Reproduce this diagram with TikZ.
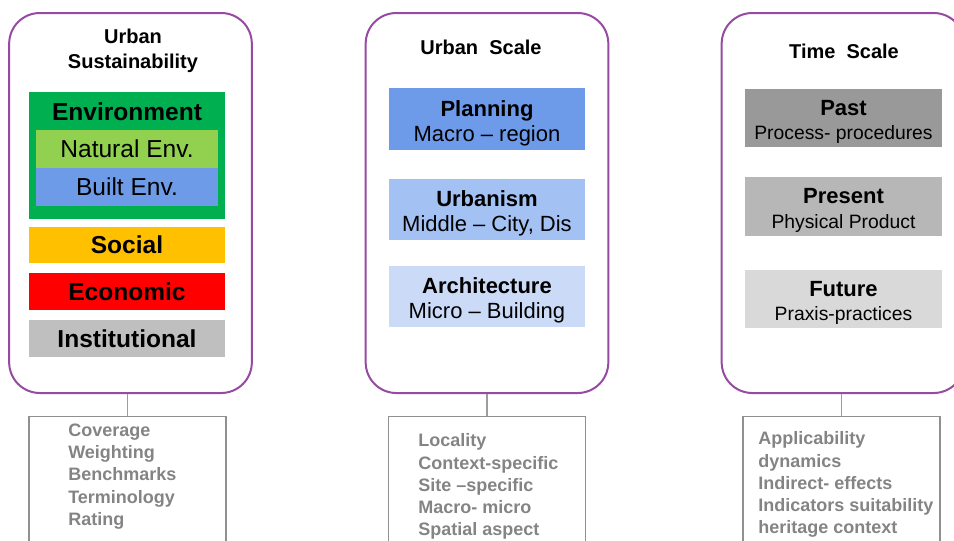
\documentclass[tikz,border=0pt]{standalone}
\usepackage{fontspec}
\setmainfont{Liberation Sans}
\usetikzlibrary{positioning,calc}
\definecolor{panelpurple}{RGB}{150,74,162}
\definecolor{envgreen}{RGB}{0,176,80}
\definecolor{natgreen}{RGB}{146,208,80}
\definecolor{builtblue}{RGB}{110,155,232}
\definecolor{socyellow}{RGB}{255,192,0}
\definecolor{ecored}{RGB}{255,0,0}
\definecolor{instgray}{RGB}{191,191,191}
\definecolor{planblue}{RGB}{109,155,233}
\definecolor{urbblue}{RGB}{163,193,243}
\definecolor{archblue}{RGB}{203,219,247}
\definecolor{pastgray}{RGB}{153,153,153}
\definecolor{presgray}{RGB}{183,183,183}
\definecolor{futgray}{RGB}{217,217,217}
\definecolor{critgray}{RGB}{132,132,132}

\begin{document}
\begin{tikzpicture}[
  x=0.75pt,y=-0.75pt,
  panel/.style={draw=panelpurple,line width=1.5pt,rounded corners=23pt,minimum width=182pt,minimum height=285pt},
  ptitle/.style={font=\bfseries\fontsize{15}{18.75}\selectfont,align=center,inner sep=0pt},
  sbox/.style={minimum width=147pt,minimum height=27.5pt,inner sep=0pt,font=\fontsize{18.4}{22}\selectfont},
  scalebox/.style={minimum width=147pt,minimum height=46pt,inner sep=0pt},
  scaletext/.style={yshift=-3pt,inner sep=0pt,align=center,font=\fontsize{16.5}{18.5}\selectfont},
  timebox/.style={minimum width=147.5pt,minimum height=44pt,inner sep=0pt},
  timetext/.style={yshift=-3pt,inner sep=0pt,align=center,font=\fontsize{14.5}{18.5}\selectfont},
  critbox/.style={draw=critgray!90,line width=1.1pt,minimum width=148pt,minimum height=120pt,anchor=north},
  crittext/.style={anchor=north west,inner sep=0pt,align=left,text=critgray,font=\bfseries\fontsize{13.5}{16.7}\selectfont},
  link/.style={draw=critgray!80,line width=0.8pt},
]
\useasboundingbox (0,0) rectangle (954,540);

% Urban sustainability
\node[panel] (sustain) at (130.5,203) {};
\node[ptitle] (sustainT) at (133,50.5) {Urban\\Sustainability};
\node[fill=envgreen,minimum width=147pt,minimum height=95.25pt] (env) at (127,155.5) {};
\node[sbox,font=\bfseries\fontsize{18.4}{22}\selectfont] (envT) at (127,111.5) {Environment};
\node[sbox,fill=natgreen,minimum width=136.5pt,minimum height=28.5pt] (natural) at (127,149) {Natural Env.};
\node[sbox,fill=builtblue,minimum width=136.5pt,minimum height=28.5pt] (built) at (127,187) {Built Env.};
\node[sbox,fill=socyellow,font=\bfseries\fontsize{18.4}{22}\selectfont] (social) at (127,245) {Social};
\node[sbox,fill=ecored,font=\bfseries\fontsize{18.4}{22}\selectfont] (economic) at (127,291.5) {Economic};
\node[sbox,fill=instgray,font=\bfseries\fontsize{18.4}{22}\selectfont] (institutional) at (127,338.5) {Institutional};

% Urban scale
\node[panel] (uscale) at (487,203) {};
\node[ptitle] (uscaleT) at (481,47) {Urban~~Scale};
\node[scalebox,fill=planblue,label={[scaletext]center:\textbf{Planning}\\Macro -- region}] (planning) at (487,119) {};
\node[scalebox,fill=urbblue,label={[scaletext]center:\textbf{Urbanism}\\Middle -- City, Dis}] (urbanism) at (487,209.5) {};
\node[scalebox,fill=archblue,label={[scaletext]center:\textbf{Architecture}\\Micro -- Building}] (architecture) at (487,296.5) {};

% Time scale
\node[panel] (tscale) at (843,203) {};
\node[ptitle] (tscaleT) at (844,51) {Time~~Scale};
\node[timebox,fill=pastgray,label={[timetext]center:{\bfseries\fontsize{16.5}{18.5}\selectfont Past}\\Process- procedures}] (past) at (843.5,118) {};
\node[timebox,fill=presgray,label={[timetext]center:{\bfseries\fontsize{16.5}{18.5}\selectfont Present}\\Physical Product}] (present) at (843.5,206.5) {};
\node[timebox,fill=futgray,label={[timetext]center:{\bfseries\fontsize{16.5}{18.5}\selectfont Future}\\Praxis-practices}] (future) at (843.5,299) {};

% criteria boxes
\node[critbox] (lcrit) at (127.5,416) {};
\node[critbox] (mcrit) at (487,416) {};
\node[critbox] (rcrit) at (841.5,416) {};
\draw[link] (lcrit.north |- sustain.south) -- (lcrit.north);
\draw[link] (mcrit.north |- uscale.south) -- (mcrit.north);
\draw[link] (rcrit.north |- tscale.south) -- (rcrit.north);

\node[crittext] (lcritT) at (68,423.5) {Coverage\\Weighting\\Benchmarks\\Terminology\\Rating};
\node[crittext] (mcritT) at (418,433.5) {Locality\\Context-specific\\Site --specific\\Macro- micro\\Spatial aspect};
\node[crittext] (rcritT) at (758,431.5) {Applicability\\dynamics\\Indirect- effects\\Indicators suitability\\heritage context};

\end{tikzpicture}
\end{document}
